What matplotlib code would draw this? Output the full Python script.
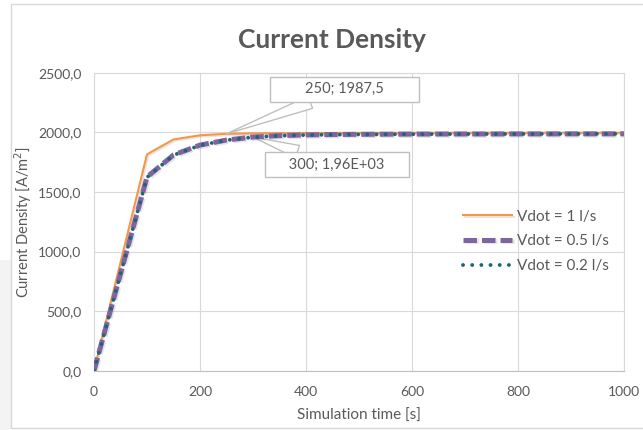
import matplotlib
matplotlib.use("Agg")
import matplotlib.pyplot as plt
import matplotlib.patheffects as pe
from matplotlib.ticker import FuncFormatter, MultipleLocator
from matplotlib.patches import Rectangle

plt.rcParams['font.family'] = ['Lato', 'DejaVu Sans']

# simulation time [s]
t = [0, 100, 150, 200, 250, 300, 350, 400, 450, 500, 550,
     600, 650, 700, 750, 800, 850, 900, 950, 1000]

# current density [A/m2]
j_1 = [0, 1815, 1940, 1975, 1987.5, 1991, 1993, 1994, 1994.5, 1995, 1995,
       1995.5, 1995.5, 1996, 1996, 1996, 1996.5, 1996.5, 1996.5, 1997]
j_05 = [0, 1625, 1810, 1893, 1935, 1960, 1972, 1978, 1981, 1983, 1984,
        1985, 1985.5, 1986, 1986, 1986.5, 1986.5, 1987, 1987, 1987]
j_02 = [0, 1622, 1808, 1891, 1934, 1959, 1971, 1977, 1980, 1982, 1983,
        1984, 1985, 1985.5, 1986, 1986, 1986.5, 1986.5, 1987, 1987]

labels = ['Vdot = 1 l/s', 'Vdot = 0.5 l/s', 'Vdot = 0.2 l/s']
grey = '#595959'

fig = plt.figure(figsize=(6.43, 4.30), dpi=100)
fig.patch.set_facecolor('white')
# light grey strip left of the chart frame, then the chart frame itself
fig.patches.append(Rectangle((0, 0), 11 / 643, 170 / 430, transform=fig.transFigure,
                             facecolor='#f3f3f3', edgecolor='none', zorder=-11))
fig.patches.append(Rectangle((11 / 643, 2 / 430), 1.0, 424 / 430, transform=fig.transFigure,
                             facecolor='white', edgecolor='#d9d9d9', linewidth=1, zorder=-10))
ax = fig.add_axes([94 / 643, 59.3 / 430, 530 / 643, 298 / 430])
ax.set_zorder(1)
ax.patch.set_alpha(0)

shadow = [pe.SimpleLineShadow(offset=(1, -1), shadow_color='#7f7f7f', alpha=0.2), pe.Normal()]
ax.plot(t, j_1, color='#f79646', linewidth=1.5, label=labels[0], path_effects=shadow, zorder=3)
ax.plot(t, j_05, color='#8064a2', linewidth=3.6, linestyle=(0, (2.7, 1.0)), label=labels[1],
        path_effects=shadow, zorder=4)
ax.plot(t, j_02, color='#1f6675', linewidth=2.8, linestyle=(0, (0.01, 2.35)), dash_capstyle='round',
        label=labels[2], zorder=5)

ax.set_xlim(0, 1000)
ax.set_ylim(0, 2500)
ax.xaxis.set_major_locator(MultipleLocator(200))
ax.yaxis.set_major_locator(MultipleLocator(500))
ax.yaxis.set_major_formatter(FuncFormatter(lambda v, p: f"{v:.1f}".replace('.', ',')))
ax.grid(True, color='#d9d9d9', linewidth=0.8)
ax.set_axisbelow(True)
for s in ax.spines.values():
    s.set_color('#d9d9d9')
    s.set_linewidth(0.8)
ax.spines['bottom'].set_color('#bfbfbf')
ax.tick_params(length=0, labelsize=10, colors=grey)
ax.tick_params(axis='x', pad=11)
ax.tick_params(axis='y', pad=9)

fig.text(331.5 / 643, 1 - 48.3 / 430, 'Current Density', fontsize=19, fontweight='bold',
         color=grey, ha='center', va='baseline')
ax.set_xlabel('Simulation time [s]', fontsize=11, color=grey, labelpad=8)
ax.set_ylabel('Current Density [A/m$^2$]', fontsize=10.5, color=grey, labelpad=3)

box = dict(boxstyle='square,pad=0.37', fc='white', ec='#bfbfbf', lw=1)
wedge = dict(arrowstyle='wedge,tail_width=0.9', fc='white', ec='#bfbfbf', lw=1,
             shrinkA=0, shrinkB=0)
ax.annotate(' ' * 8 + '250; 1987,5' + ' ' * 8, xy=(t[4], j_1[4]), xytext=(85, 32),
            textcoords='offset points', fontsize=10.5, color=grey, ha='center', va='center',
            bbox=box, arrowprops=wedge)
ax.annotate(' ' * 5 + '300; 1,96E+03' + ' ' * 5, xy=(t[5], j_05[5]), xytext=(60.3, -19.8),
            textcoords='offset points', fontsize=10.5, color=grey, ha='center', va='center',
            bbox=box, arrowprops=wedge)

ax.legend(loc='center left', bbox_to_anchor=(0.671, 0.434), frameon=False, fontsize=11,
          handlelength=3.2, labelspacing=0.7, handletextpad=0.3, labelcolor=grey)

fig.savefig('out.png', dpi=100, facecolor=fig.get_facecolor())
